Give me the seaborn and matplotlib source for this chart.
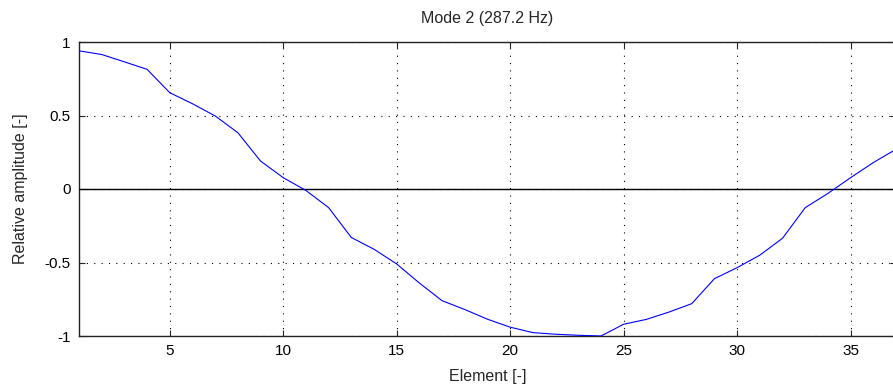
import numpy as np
import pandas as pd
import matplotlib
matplotlib.use("Agg")
import matplotlib.pyplot as plt
import seaborn as sns

element = list(range(1, 38))
amplitude = [0.94, 0.915, 0.865, 0.814, 0.655, 0.58, 0.497, 0.383, 0.19, 0.077,
             -0.01, -0.127, -0.33, -0.41, -0.51, -0.64, -0.76, -0.82, -0.886, -0.94,
             -0.977, -0.988, -0.995, -1.0, -0.92, -0.887, -0.837, -0.78, -0.61, -0.535,
             -0.45, -0.335, -0.127, -0.03, 0.077, 0.18, 0.27]
x_ticks = [5, 10, 15, 20, 25, 30, 35]
y_ticks = [-1, -0.5, 0, 0.5, 1]
y_ticklabels = ["-1", "-0.5", "0", "0.5", "1"]
title = "Mode 2 (287.2 Hz)"

sns.set_style("white")
plt.rcParams['font.family'] = ['Liberation Sans', 'DejaVu Sans']
plt.rcParams['lines.scale_dashes'] = False

df = pd.DataFrame({"Element": element, "Amplitude": amplitude})

W, H = 893, 391
fig = plt.figure(figsize=(W / 100, H / 100), dpi=100)
left, right, top, bottom = 79, 896, 42, 336
ax = fig.add_axes([left / W, 1 - bottom / H, (right - left) / W, (bottom - top) / H])

sns.lineplot(data=df, x="Element", y="Amplitude", ax=ax, color=(0, 0, 1),
             linewidth=0.8, zorder=3)
ax.axhline(0, color="black", linewidth=1.0, zorder=2.6)

ax.set_xlim(1, 37)
ax.set_ylim(-1, 1)
ax.set_xticks(x_ticks)
ax.set_yticks(y_ticks)
ax.set_yticklabels(y_ticklabels)
ax.grid(True, color="black", linestyle=(0, (0.8, 4.5)), linewidth=0.8)

for s in ax.spines.values():
    s.set_visible(True)
    s.set_color("#222222")
    s.set_linewidth(1.0)

ax.tick_params(direction="in", length=4, width=0.8, color="#222222",
               top=True, right=True, bottom=True, left=True,
               labelsize=11, labelcolor="black", pad=6)

ax.set_xlabel("Element [-]", fontsize=11.5, labelpad=8)
ax.set_ylabel("Relative amplitude [-]", fontsize=11.5, labelpad=12)
ax.set_title(title, fontsize=11.5, pad=14)

fig.savefig("out.png", dpi=100)
